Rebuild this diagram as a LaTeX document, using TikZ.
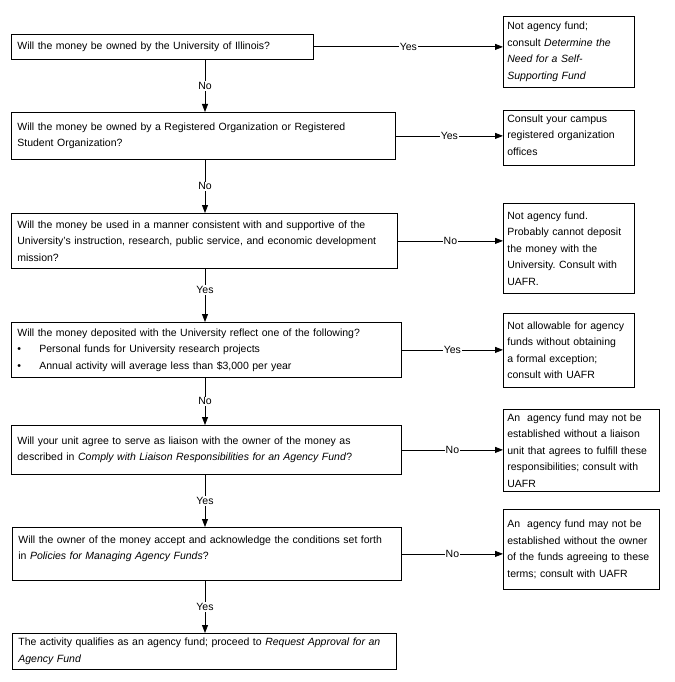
\documentclass[tikz,border=0pt]{standalone}
\usepackage{fontspec}
\setmainfont{Liberation Sans}
\frenchspacing
\usetikzlibrary{arrows.meta,positioning,calc}

\tikzset{
  qbox/.style={draw,line width=0.8pt,anchor=north west,align=left,inner xsep=6pt,inner ysep=3pt,font=\fontsize{10.5}{16.5}\selectfont},
  rbox/.style={qbox,inner xsep=4pt},
  flow/.style={line width=0.8pt,-{Triangle[length=8pt,width=6pt]}},
  lbl/.style={fill=white,inner sep=1pt,font=\fontsize{10.5}{12}\selectfont}
}

\begin{document}
\begin{tikzpicture}[x=1pt,y=-1pt]
\useasboundingbox (0,0) rectangle (674,682);
\coordinate (spine) at (205,0);
% questions
\node[qbox,minimum width=302pt,minimum height=25pt,text width=290pt] (q1) at (11,34) {Will the money be owned by the University of Illinois?};
\node[qbox,minimum width=384pt,minimum height=47pt,text width=372pt] (q2) at (11,112) {Will the money be owned by a Registered Organization or Registered\\Student Organization?};
\node[qbox,minimum width=386pt,minimum height=55pt,text width=374pt] (q3) at (11,213) {Will the money be used in a manner consistent with and supportive of the\\University's instruction, research, public service, and economic development\\mission?};
\node[qbox,minimum width=390pt,minimum height=55pt,text width=378pt] (q4) at (11,322) {Will the money deposited with the University reflect one of the following?\\\makebox[22pt][l]{\textbullet}Personal funds for University research projects\\\makebox[22pt][l]{\textbullet}Annual activity will average less than \$3,000 per year};
\node[qbox,minimum width=390pt,minimum height=49pt,text width=378pt] (q5) at (11,425) {Will your unit agree to serve as liaison with the owner of the money as\\described in \textit{Comply with Liaison Responsibilities for an Agency Fund}?};
\node[qbox,minimum width=389pt,minimum height=53pt,text width=377pt,text depth=28.5pt] (q6) at (12,527) {Will the owner of the money accept and acknowledge the conditions set forth\\in \textit{Policies for Managing Agency Funds}?};
\node[qbox,minimum width=384pt,minimum height=36pt,text width=372pt] (fin) at (12,633) {The activity qualifies as an agency fund; proceed to \textit{Request Approval for an}\\\textit{Agency Fund}};
% outcomes
\node[rbox,minimum width=131pt,minimum height=71pt,text width=123pt] (r1) at (503,16) {Not agency fund;\\consult \textit{Determine the}\\\textit{Need for a Self-}\\\textit{Supporting Fund}};
\node[rbox,minimum width=131pt,minimum height=55pt,text width=123pt,text depth=39pt] (r2) at (503,110) {Consult your campus\\registered organization\\offices};
\node[rbox,minimum width=131pt,minimum height=90pt,text width=123pt] (r3) at (503,203) {Not agency fund.\\Probably cannot deposit\\the money with the\\University. Consult with\\UAFR.};
\node[rbox,minimum width=131pt,minimum height=74pt,text width=123pt] (r4) at (503,313) {Not allowable for agency\\funds without obtaining\\a formal exception;\\consult with UAFR};
\node[rbox,minimum width=156pt,minimum height=82pt,text width=148pt] (r5) at (503,409) {An\ \ agency fund may not be\\established without a liaison\\unit that agrees to fulfill these\\responsibilities; consult with\\UAFR};
\node[rbox,minimum width=156pt,minimum height=80pt,text width=148pt] (r6) at (503,509) {An\ \ agency fund may not be\\established without the owner\\of the funds agreeing to these\\terms; consult with UAFR};
% side arrows
\draw[flow] (q1.east) -- (q1.east -| r1.west) node[lbl,midway] {Yes};
\draw[flow] (q2.east) -- (q2.east -| r2.west) node[lbl,midway] {Yes};
\draw[flow] (q3.east) -- (q3.east -| r3.west) node[lbl,midway] {No};
\draw[flow] (q4.east) -- (q4.east -| r4.west) node[lbl,midway] {Yes};
\draw[flow] (q5.east) -- (q5.east -| r5.west) node[lbl,midway] {No};
\draw[flow] (q6.east) -- (q6.east -| r6.west) node[lbl,midway] {No};
% down arrows
\draw[flow] (q1.south -| spine) -- (q2.north -| spine) node[lbl,midway] {No};
\draw[flow] (q2.south -| spine) -- (q3.north -| spine) node[lbl,midway] {No};
\draw[flow] (q3.south -| spine) -- (q4.north -| spine) node[lbl,pos=0.4] {Yes};
\draw[flow] (q4.south -| spine) -- (q5.north -| spine) node[lbl,midway] {No};
\draw[flow] (q5.south -| spine) -- (q6.north -| spine) node[lbl,midway] {Yes};
\draw[flow] (q6.south -| spine) -- (fin.north -| spine) node[lbl,midway] {Yes};
\end{tikzpicture}
\end{document}
